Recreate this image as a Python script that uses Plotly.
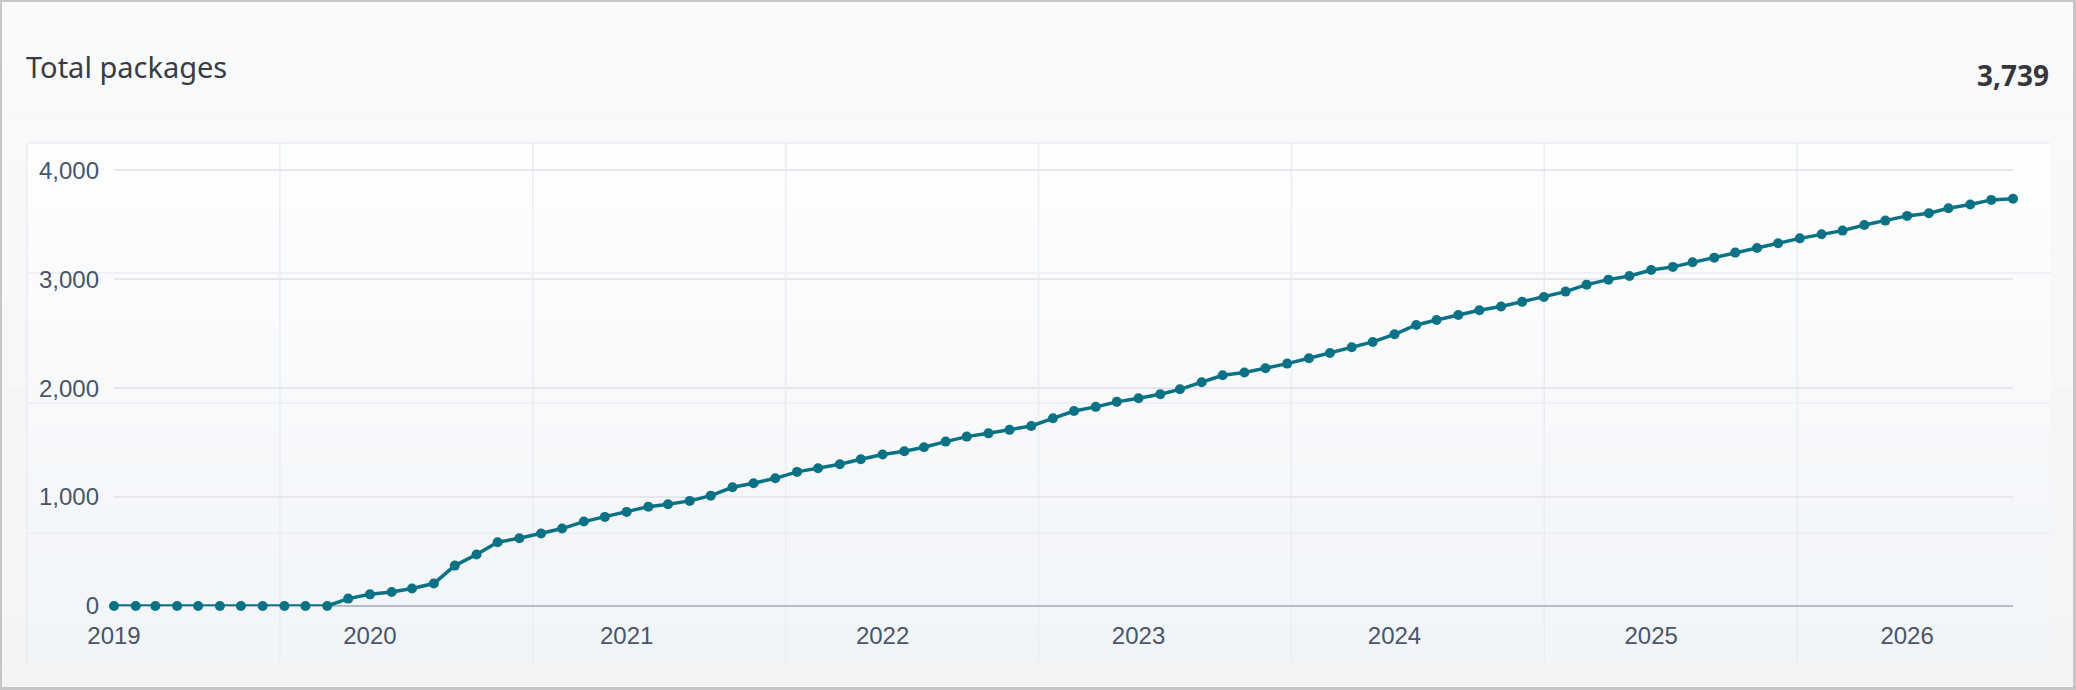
import plotly.graph_objects as go
import pandas as pd

# ---------------- data ----------------
months = pd.date_range("2019-01-01", "2026-06-01", freq="MS").strftime("%Y-%m-%d").tolist()
total_packages = [
    0, 0, 0, 0, 0, 0, 0, 0, 0, 0, 0, 68,            # 2019
    107, 129, 160, 206, 371, 472, 585, 622, 665, 711, 775, 818,   # 2020
    864, 912, 934, 965, 1013, 1090, 1127, 1172, 1231, 1264, 1301, 1347,  # 2021
    1390, 1420, 1457, 1509, 1555, 1585, 1617, 1653, 1723, 1790, 1828, 1874,  # 2022
    1907, 1944, 1989, 2054, 2118, 2143, 2182, 2225, 2274, 2323, 2375, 2424,  # 2023
    2494, 2580, 2626, 2672, 2715, 2749, 2792, 2837, 2886, 2950, 2996, 3030,  # 2024
    3085, 3113, 3155, 3198, 3244, 3287, 3330, 3375, 3412, 3446, 3498, 3538,  # 2025
    3581, 3605, 3651, 3685, 3728, 3739,                                      # 2026
]
title_text = "Total packages"
headline_value = "3,739"
y_ticks = [0, 1000, 2000, 3000, 4000]

# ---------------- layout geometry ----------------
W, H = 2076, 690
L, R, T, B = 114, 63, 150, 84
PW = W - L - R
PH = H - T - B


def fx(x):
    return (x - L) / PW


def fy(y):
    return (H - B - y) / PH


def lerp_color(c0, c1, t):
    return "rgb(%d,%d,%d)" % tuple(round(a + (b - a) * t) for a, b in zip(c0, c1))


shapes = []


def gradient_rect(x0, y0, x1, y1, c0, c1, n=40):
    step = (y1 - y0) / n
    for k in range(n):
        ya = y0 + k * step
        yb = ya + step + 0.6
        shapes.append(dict(
            type="rect", xref="paper", yref="paper", layer="below",
            x0=fx(x0), x1=fx(x1), y0=fy(min(yb, y1)), y1=fy(ya),
            fillcolor=lerp_color(c0, c1, (k + 0.5) / n), line=dict(width=0),
        ))


# card background
gradient_rect(2, 2, 2073, 687, (249, 250, 252), (244, 244, 245), n=30)
# chart box background
BX0, BY0, BX1, BY1 = 27, 143, 2050, 663
gradient_rect(BX0, BY0, BX1, BY1, (253, 254, 254), (241, 244, 248), n=40)
# decorative background grid
grid_col = "rgb(235,237,242)"
for k in range(8):
    gx = BX0 + k * (BX1 - BX0) / 8
    shapes.append(dict(type="line", xref="paper", yref="paper", layer="below",
                       x0=fx(gx), x1=fx(gx), y0=fy(BY0), y1=fy(BY1),
                       line=dict(color=grid_col, width=1.5)))
for k in range(4):
    gy = BY0 + k * (BY1 - BY0) / 4
    shapes.append(dict(type="line", xref="paper", yref="paper", layer="below",
                       x0=fx(BX0), x1=fx(BX1), y0=fy(gy), y1=fy(gy),
                       line=dict(color=grid_col, width=1.5)))

line_col = "#0b7285"
tick_col = "#4a5568"

fig = go.Figure()
fig.add_trace(go.Scatter(
    x=months, y=total_packages, mode="lines+markers",
    line=dict(color=line_col, width=3.5),
    marker=dict(color=line_col, size=10),
    cliponaxis=False, hoverinfo="skip",
))

fig.update_layout(
    width=W, height=H,
    margin=dict(l=L, r=R, t=T, b=B, pad=0),
    paper_bgcolor="#c6c6c8",
    plot_bgcolor="rgba(0,0,0,0)",
    showlegend=False,
    shapes=shapes,
    annotations=[
        dict(text=title_text, xref="paper", yref="paper", x=fx(24), y=fy(66),
             xanchor="left", yanchor="middle", showarrow=False,
             font=dict(family="Noto Sans", size=29, color="#3b3b42")),
        dict(text="<b>" + headline_value + "</b>", xref="paper", yref="paper",
             x=fx(2051), y=fy(75), xanchor="right", yanchor="middle", showarrow=False,
             font=dict(family="Noto Sans", size=28, color="#36363d")),
    ],
    xaxis=dict(
        type="date", range=[months[0], months[-1]],
        dtick="M12", tick0="2019-01-01", tickformat="%Y",
        showgrid=False, zeroline=False, showline=False, ticks="",
        tickfont=dict(family="Liberation Sans, Arial", size=24, color=tick_col),
        ticklabelstandoff=13, automargin=False, fixedrange=True,
    ),
    yaxis=dict(
        range=[0, 4186], tickvals=y_ticks, tickformat=",",
        showgrid=True, gridcolor="rgb(229,231,237)", gridwidth=1.5,
        zeroline=True, zerolinecolor="rgb(180,188,200)", zerolinewidth=2,
        showline=False, ticks="",
        tickfont=dict(family="Liberation Sans, Arial", size=24, color=tick_col),
        ticklabelstandoff=14, automargin=False, fixedrange=True,
    ),
)

fig.write_html("out.html", config=dict(displayModeBar=False))
